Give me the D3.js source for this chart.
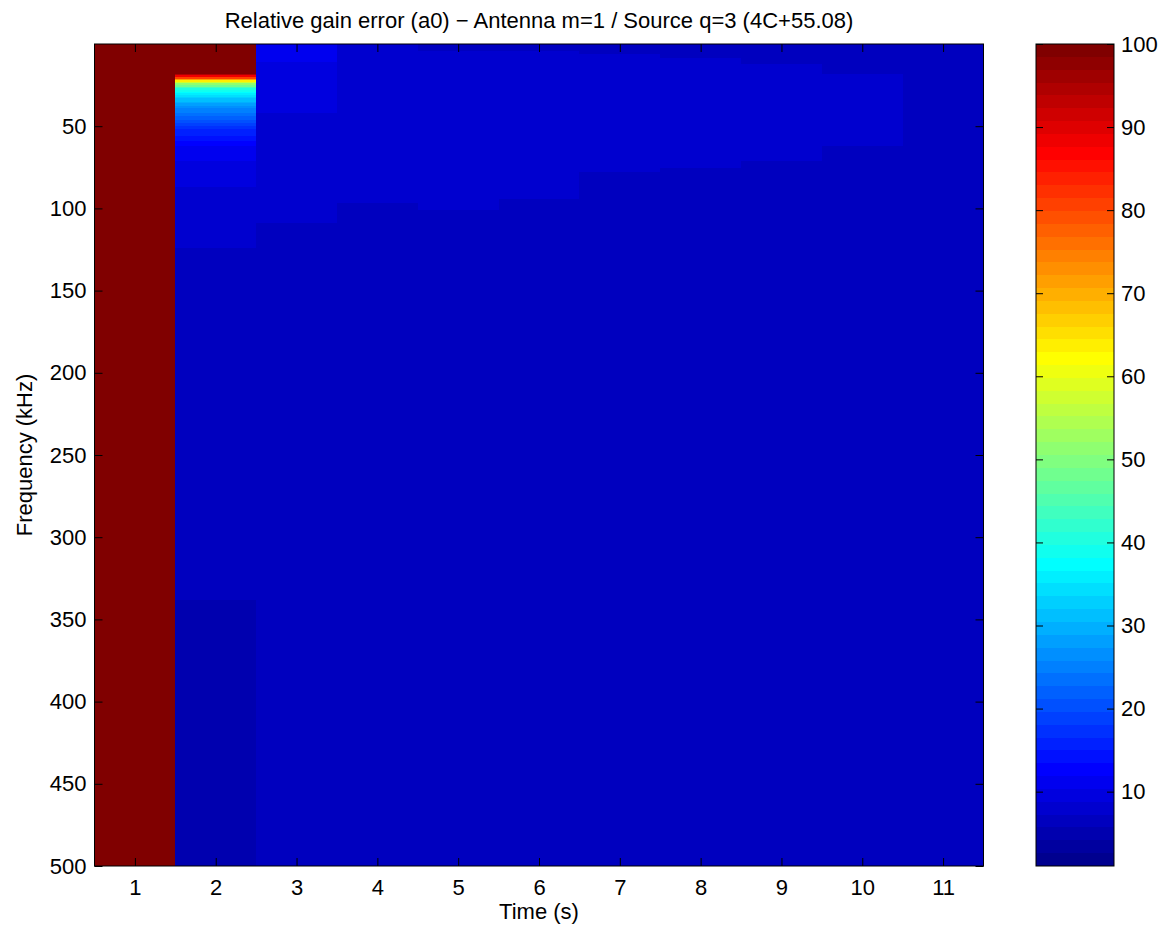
<!DOCTYPE html>
<html>
<head>
<meta charset="utf-8">
<script src="https://cdn.jsdelivr.net/npm/d3@7"></script>
<style>
  body { margin: 0; background: #fff; }
  text { font-family: "Liberation Sans", Arial, Helvetica, sans-serif; fill: #000; }
</style>
</head>
<body>
<svg id="chart" width="1165" height="928"></svg>
<script>
// ---- data -------------------------------------------------------------
const times = [1, 2, 3, 4, 5, 6, 7, 8, 9, 10, 11];          // s
const freqTicks = [50, 100, 150, 200, 250, 300, 350, 400, 450, 500]; // kHz
const colorTicks = [10, 20, 30, 40, 50, 60, 70, 80, 90, 100];
const freqRange = [0, 500];        // kHz
const colorLimits = [1.05, 100];   // %

// Relative gain error (%) per time step: [start kHz, value];
// each value holds until the next start (or the top of the band).
const errT1 = [[0, 100]];
const errT2 = [
  [0, 100], [18, 95], [19, 89], [20, 80], [21, 71], [22, 63], [23, 57],
  [24, 52], [25, 47.5], [26, 44], [27, 41], [28, 39], [29, 37.5], [30, 36],
  [31, 34.5], [32, 33], [33, 31.5], [34, 30.5], [35, 29.5], [36, 28.5],
  [37, 27.5], [38, 26.5], [39, 25.5], [40, 24.5], [42, 23.5], [44, 22],
  [46, 20.5], [48, 19], [50, 17.5], [52, 16], [54, 15], [56, 13.5],
  [59, 12.6], [62, 11.1], [71, 9.6], [87, 8.0], [124, 6.5], [338, 4.9]
];
const errT3 = [[0, 11.1], [11, 9.6], [42, 8.0], [109, 6.5]];
const errT4 = [[0, 8.0], [97, 6.5]];
const errT5 = [[0, 6.5], [4, 8.0], [101, 6.5]];
const errT6 = [[0, 6.5], [4.5, 8.0], [94.5, 6.5]];
const errT7 = [[0, 6.5], [6, 8.0], [78, 6.5]];
const errT8 = [[0, 6.5], [8.5, 8.0], [75.5, 6.5]];
const errT9 = [[0, 6.5], [12, 8.0], [71, 6.5]];
const errT10 = [[0, 6.5], [18, 8.0], [62, 6.5]];
const errT11 = [[0, 6.5]];
const gainError = [errT1, errT2, errT3, errT4, errT5, errT6, errT7, errT8, errT9, errT10, errT11];

// ---- jet colormap (64 levels) -----------------------------------------
function jetColor(i) {
  let r, g, b;
  b = i < 8 ? (9 + i) / 16 : i < 24 ? 1 : i < 39 ? (39 - i) / 16 : 0;
  g = i < 8 ? 0 : i < 23 ? (i - 7) / 16 : i < 40 ? 1 : i < 55 ? (55 - i) / 16 : 0;
  r = i < 24 ? 0 : i < 39 ? (i - 23) / 16 : i < 56 ? 1 : (71 - i) / 16;
  return d3.rgb(Math.round(r * 255), Math.round(g * 255), Math.round(b * 255)).formatHex();
}
const jet = d3.range(64).map(jetColor);

// ---- layout -----------------------------------------------------------
const plot = { left: 94.5, right: 983.5, top: 44, bottom: 866 };
const cbar = { left: 1036, right: 1114, top: 44, bottom: 866 };
const fontSize = 22;

const svg = d3.select("#chart");

const x = d3.scaleLinear().domain([0.5, 11.5]).range([plot.left, plot.right]);
const y = d3.scaleLinear().domain(freqRange).range([plot.top, plot.bottom]);
const color = d3.scaleQuantize().domain(colorLimits).range(jet);
const cy = d3.scaleLinear().domain(colorLimits).range([cbar.bottom, cbar.top]);

// ---- heatmap cells ----------------------------------------------------
const cells = [];
gainError.forEach((segs, j) => {
  segs.forEach((s, k) => {
    const end = k + 1 < segs.length ? segs[k + 1][0] : freqRange[1];
    cells.push({ t: times[j], f0: s[0], f1: end, v: s[1] });
  });
});

svg.append("g")
  .attr("shape-rendering", "crispEdges")
  .selectAll("rect")
  .data(cells)
  .join("rect")
  .attr("x", d => x(d.t - 0.5))
  .attr("width", d => x(d.t + 0.5) - x(d.t - 0.5))
  .attr("y", d => y(d.f0))
  .attr("height", d => y(d.f1) - y(d.f0))
  .attr("fill", d => color(Math.min(Math.max(d.v, colorLimits[0]), colorLimits[1])));

// ---- axes -------------------------------------------------------------
function styleAxis(g) {
  g.select(".domain").remove();
  g.selectAll(".tick line").attr("stroke", "#000").attr("stroke-width", 1);
  g.selectAll("text").attr("font-size", fontSize).attr("font-family", null);
}

svg.append("g")
  .attr("transform", `translate(0,${plot.bottom})`)
  .call(d3.axisBottom(x).tickValues(times).tickSize(-8).tickPadding(13).tickFormat(d3.format("d")))
  .call(styleAxis);
svg.append("g")
  .attr("transform", `translate(0,${plot.top})`)
  .call(d3.axisTop(x).tickValues(times).tickSize(-8).tickFormat(""))
  .call(styleAxis);
svg.append("g")
  .attr("transform", `translate(${plot.left},0)`)
  .call(d3.axisLeft(y).tickValues(freqTicks).tickSize(-8).tickPadding(8).tickFormat(d3.format("d")))
  .call(styleAxis);
svg.append("g")
  .attr("transform", `translate(${plot.right},0)`)
  .call(d3.axisRight(y).tickValues(freqTicks).tickSize(-8).tickFormat(""))
  .call(styleAxis);

svg.append("rect")
  .attr("x", plot.left).attr("y", plot.top)
  .attr("width", plot.right - plot.left).attr("height", plot.bottom - plot.top)
  .attr("fill", "none").attr("stroke", "#000").attr("stroke-width", 1);

// ---- labels -----------------------------------------------------------
svg.append("text")
  .attr("x", (plot.left + plot.right) / 2).attr("y", 28)
  .attr("text-anchor", "middle").attr("font-size", fontSize)
  .text("Relative gain error (a0) \u2212 Antenna m=1 / Source q=3 (4C+55.08)");

svg.append("text")
  .attr("x", (plot.left + plot.right) / 2).attr("y", 919)
  .attr("text-anchor", "middle").attr("font-size", fontSize)
  .text("Time (s)");

svg.append("text")
  .attr("transform", `translate(32,${(plot.top + plot.bottom) / 2}) rotate(-90)`)
  .attr("text-anchor", "middle").attr("font-size", fontSize)
  .text("Frequency (kHz)");

// ---- colorbar ---------------------------------------------------------
const levels = d3.range(64).map(i => {
  const [lo, hi] = color.invertExtent(jet[i]);
  return { lo, hi, c: jet[i] };
});
svg.append("g")
  .attr("shape-rendering", "crispEdges")
  .selectAll("rect")
  .data(levels)
  .join("rect")
  .attr("x", cbar.left)
  .attr("width", cbar.right - cbar.left)
  .attr("y", d => cy(d.hi))
  .attr("height", d => cy(d.lo) - cy(d.hi))
  .attr("fill", d => d.c);

svg.append("g")
  .attr("transform", `translate(${cbar.right},0)`)
  .call(d3.axisRight(cy).tickValues(colorTicks).tickSize(-7).tickPadding(7).tickFormat(d3.format("d")))
  .call(styleAxis);
svg.append("g")
  .attr("transform", `translate(${cbar.left},0)`)
  .call(d3.axisLeft(cy).tickValues(colorTicks).tickSize(-7).tickFormat(""))
  .call(styleAxis);

svg.append("rect")
  .attr("x", cbar.left).attr("y", cbar.top)
  .attr("width", cbar.right - cbar.left).attr("height", cbar.bottom - cbar.top)
  .attr("fill", "none").attr("stroke", "#000").attr("stroke-width", 1);
</script>
</body>
</html>
